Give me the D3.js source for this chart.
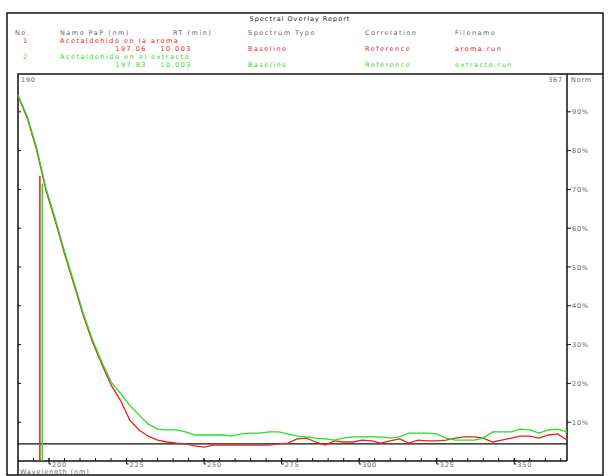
<!DOCTYPE html>
<html>
<head>
<meta charset="utf-8">
<script src="https://cdn.jsdelivr.net/npm/d3@7"></script>
<style>
  body { margin: 0; background: #fff; }
  svg { display: block; }
  text { font-family: "DejaVu Sans", sans-serif; font-size: 6.5px; }
</style>
</head>
<body>
<div class="overlay"></div>
<script>
// Spectra (nm, % normalized)
const wavelengths = [190, 193, 196, 199, 202, 205, 208, 211, 214, 217, 220, 223, 226, 229, 232, 235, 238, 241, 244, 247,
  250, 253, 256, 259, 262, 265, 268, 271, 274, 277, 280, 283, 286, 289, 292, 295, 298, 301, 304, 307,
  310, 313, 316, 319, 322, 325, 328, 331, 334, 337, 340, 343, 346, 349, 352, 355, 358, 361, 364, 367]
const aromaValues = [94.1, 88.4, 80.2, 69.8, 61.9, 53.4, 45.6, 37.6, 30.7, 25.0, 19.6, 15.7, 10.6, 8.0, 6.4, 5.4, 4.9, 4.6, 4.4, 3.9,
  3.6, 4.1, 4.1, 4.1, 4.1, 4.1, 4.1, 4.1, 4.4, 4.6, 5.7, 5.9, 4.9, 4.1, 5.2, 4.9, 4.9, 5.4, 5.2, 4.6,
  5.2, 5.7, 4.6, 5.4, 5.2, 5.2, 5.4, 5.9, 6.2, 6.2, 5.9, 4.9, 5.4, 5.9, 6.4, 6.4, 5.9, 6.7, 7.0, 5.4]
const extractoValues = [94.3, 88.8, 80.8, 70.4, 62.5, 54.0, 46.2, 38.2, 31.3, 25.6, 20.4, 17.5, 14.4, 11.9, 9.5, 8.2, 8.0, 8.0, 7.5, 6.7,
  6.7, 6.7, 6.7, 6.4, 7.0, 7.2, 7.2, 7.5, 7.5, 7.0, 6.4, 6.2, 5.9, 5.7, 5.4, 5.9, 6.2, 6.2, 6.2, 6.2,
  5.9, 6.2, 7.2, 7.2, 7.2, 7.0, 5.9, 5.4, 5.4, 5.4, 5.9, 7.5, 7.5, 7.5, 8.2, 8.0, 7.2, 8.0, 8.2, 7.5]
const papValues = [197.06, 197.83]
const markerTops = [73.5, 71.5]
const baselineLevel = 4.4

const xTicks = [200, 225, 250, 275, 300, 325, 350]
const yTicks = [10, 20, 30, 40, 50, 60, 70, 80, 90]

const headers = ['No.', 'Name  PaP (nm)', 'RT (min)', 'Spectrum Type', 'Correlation', 'Filename']
const names = ['Acetaldehido en la aroma', 'Acetaldehido en el extracto']
const rtValues = ['10.003', '10.003']
const spectrumTypes = ['Baseline', 'Baseline']
const correlations = ['Reference', 'Reference']
const filenames = ['aroma.run', 'extracto.run']

const colors = ['#e8201c', '#22e022']

const width = 608
const height = 476
const plot = { left: 18, right: 567, top: 74, bottom: 461 }

const svg = d3.select('.overlay')
  .append('svg')
  .attr('width', width)
  .attr('height', height)

const x = d3.scaleLinear().domain([190, 367]).range([plot.left, plot.right])
const y = d3.scaleLinear().domain([0, 100]).range([plot.bottom, plot.bottom - 388])

// frames
svg.append('rect')
  .attr('x', 7).attr('y', 13).attr('width', 596).attr('height', 462)
  .attr('fill', 'none').attr('stroke', '#111').attr('stroke-width', 1.5)
svg.append('path')
  .attr('d', `M${plot.left},475V${plot.top}H603`)
  .attr('fill', 'none').attr('stroke', '#111').attr('stroke-width', 1.5)
svg.append('line')
  .attr('x1', plot.right).attr('x2', plot.right)
  .attr('y1', plot.top).attr('y2', plot.bottom)
  .attr('stroke', '#111').attr('stroke-width', 1.5)

// header block
const grey = '#666'
svg.append('text')
  .attr('x', 300).attr('y', 21)
  .attr('text-anchor', 'middle')
  .attr('letter-spacing', 1)
  .attr('fill', '#222')
  .text('Spectral Overlay Report')

const headerX = [15, 60, 173, 248, 365, 455]
svg.append('g')
  .selectAll('text')
  .data(headers)
  .join('text')
  .attr('x', (d, i) => headerX[i])
  .attr('y', 35)
  .attr('letter-spacing', 1.5)
  .attr('fill', grey)
  .text(d => d)

names.forEach((name, i) => {
  const g = svg.append('g')
    .attr('fill', colors[i])
    .attr('letter-spacing', 1.5)
  const y0 = 43 + i * 16
  g.append('text').attr('x', 23).attr('y', y0).text(i + 1)
  g.append('text').attr('x', 60).attr('y', y0).text(name)
  g.append('text').attr('x', 147).attr('y', y0 + 8).attr('text-anchor', 'end').text(papValues[i].toFixed(2))
  g.append('text').attr('x', 192).attr('y', y0 + 8).attr('text-anchor', 'end').text(rtValues[i])
  g.append('text').attr('x', 248).attr('y', y0 + 8).text(spectrumTypes[i])
  g.append('text').attr('x', 365).attr('y', y0 + 8).text(correlations[i])
  g.append('text').attr('x', 455).attr('y', y0 + 8).text(filenames[i])
})

// plot corner labels
svg.append('text').attr('x', 21).attr('y', 82).attr('fill', grey).attr('letter-spacing', 0.8).text(x.domain()[0])
svg.append('text').attr('x', 563).attr('y', 82).attr('text-anchor', 'end').attr('fill', grey).attr('letter-spacing', 0.8).text(x.domain()[1])
svg.append('text').attr('x', 571).attr('y', 82).attr('fill', grey).attr('letter-spacing', 0.8).text('Norm')

// y ticks (left inside, right with labels)
svg.append('g')
  .selectAll('line')
  .data(yTicks)
  .join('line')
  .attr('x1', plot.left).attr('x2', plot.left + 3)
  .attr('y1', d => y(d)).attr('y2', d => y(d))
  .attr('stroke', '#111')
const rightAxis = svg.append('g').selectAll('g').data(yTicks).join('g')
  .attr('transform', d => `translate(${plot.right},${y(d)})`)
rightAxis.append('line').attr('x2', 4).attr('stroke', '#111')
rightAxis.append('text').attr('x', 5).attr('y', 2.5).attr('fill', grey).attr('letter-spacing', 0.8).text(d => d + '%')

// x axis
svg.append('line')
  .attr('x1', plot.left).attr('x2', plot.right)
  .attr('y1', plot.bottom).attr('y2', plot.bottom)
  .attr('stroke', '#111').attr('stroke-width', 1.5)
svg.append('g')
  .selectAll('line')
  .data(d3.range(195, 367, 5))
  .join('line')
  .attr('x1', d => x(d)).attr('x2', d => x(d))
  .attr('y1', plot.bottom - 3).attr('y2', plot.bottom)
  .attr('stroke', '#111')
const xMajor = svg.append('g').selectAll('g').data(xTicks).join('g')
  .attr('transform', d => `translate(${x(d)},${plot.bottom})`)
xMajor.append('path').attr('d', 'M0,-3V3H2').attr('fill', 'none').attr('stroke', '#111')
xMajor.append('text').attr('x', 3).attr('y', 6).attr('fill', grey).attr('font-size', 6).attr('letter-spacing', 0.8).text(d => d)
svg.append('text').attr('x', 20).attr('y', 473.5).attr('fill', grey).attr('font-size', 6).attr('letter-spacing', 0.9).text('Wavelength (nm)')

// baseline
svg.append('line')
  .attr('x1', plot.left).attr('x2', plot.right)
  .attr('y1', y(baselineLevel)).attr('y2', y(baselineLevel))
  .attr('stroke', '#111').attr('stroke-width', 1.2)

// spectra
const line = d3.line().x(d => x(d[0])).y(d => y(d[1]))
const series = [d3.zip(wavelengths, aromaValues), d3.zip(wavelengths, extractoValues)]
series.forEach((s, i) => {
  svg.append('path')
    .datum(s)
    .attr('fill', 'none')
    .attr('stroke', colors[i])
    .attr('stroke-width', 1.3)
    .attr('d', line)
})

// PaP markers
papValues.forEach((p, i) => {
  svg.append('line')
    .attr('x1', x(p)).attr('x2', x(p))
    .attr('y1', y(markerTops[i])).attr('y2', plot.bottom)
    .attr('stroke', colors[i]).attr('stroke-width', 1.5)
})
</script>
</body>
</html>
